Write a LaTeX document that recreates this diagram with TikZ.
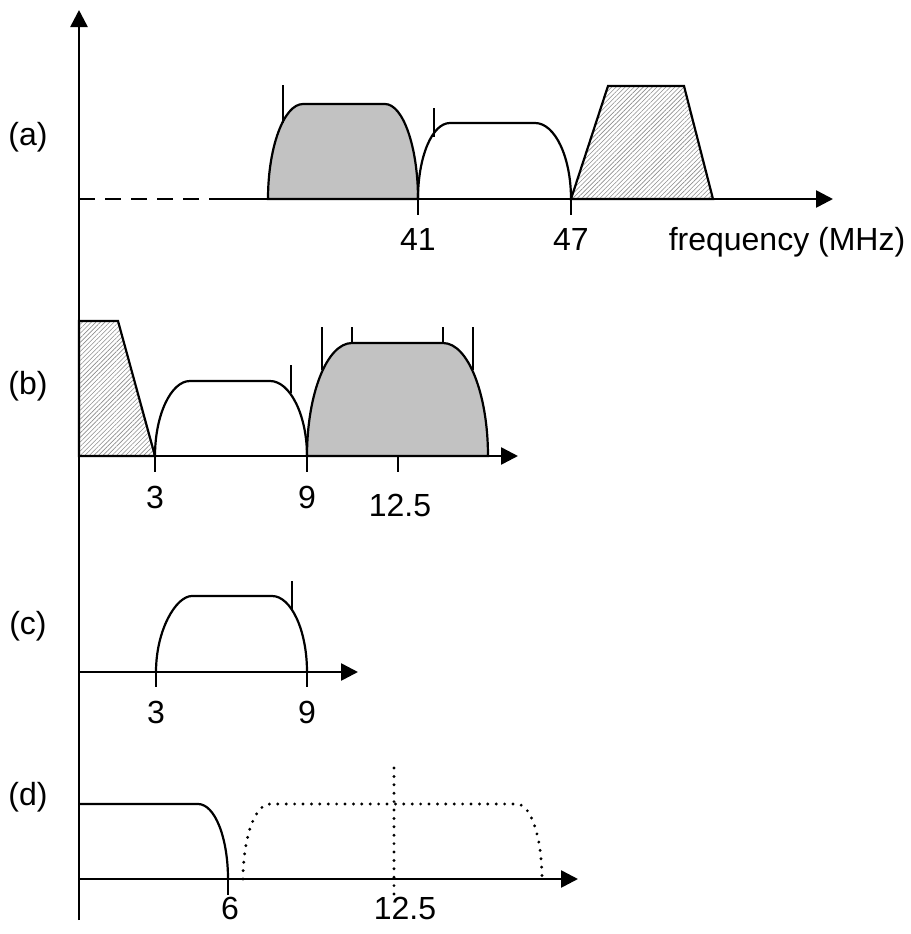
\documentclass[tikz,border=0pt]{standalone}
\usepackage{fontspec}
\setmainfont{Liberation Sans}
\usetikzlibrary{arrows.meta, patterns.meta}
\definecolor{ink}{HTML}{000000}
\definecolor{shadebg}{HTML}{C2C2C2}
\tikzset{
  axis/.style={line width=1.3pt, draw=ink, -{Triangle[length=8.5pt, width=8.5pt]}},
  tick/.style={line width=1pt, draw=ink},
  band/.style={line width=1.1pt, draw=ink},
  shaded/.style={band, fill=shadebg},
  hatched/.style={band, pattern={Lines[angle=45, distance=1.6pt, line width=0.3pt]}, pattern color=black!45},
  guard/.style={line width=1.6pt, draw=ink, line cap=round, dash pattern=on 0pt off 4.2pt},
  lbl/.style={font=\fontsize{16}{19}\selectfont, inner sep=0pt}
}

\begin{document}
\begin{tikzpicture}[x=0.5pt, y=-0.5pt]
\useasboundingbox (0,0) rectangle (911,934);

% (a) tuner output
\draw[shaded] (268,199) .. controls (268,147) and (284,104) .. (303,104) -- (385,104)
  .. controls (403,104) and (418,147) .. (418,199) -- cycle;
\draw[tick] (283,85) -- (283,123);
\draw[band] (418,199) .. controls (418,157) and (432,123) .. (450,123) -- (535,123)
  .. controls (555,123) and (571,157) .. (571,199);
\draw[tick] (434,108) -- (434,137);
\draw[hatched] (571,199) -- (608,86) -- (684,86) -- (713,199) -- cycle;

\coordinate (a0) at (79,199);
\coordinate (agap) at (212,199);
\coordinate (aend) at (833,199);
\draw[line width=1.3pt, dash pattern=on 8pt off 5pt] (a0) -- (agap);
\draw[axis] (agap) -- (aend);
\draw[tick] (418,199) -- (418,215);
\draw[tick] (571,199) -- (571,215);
\node[lbl, anchor=base] (f41) at (418,250) {41};
\node[lbl, anchor=base] (f47) at (571,250) {47};
\node[lbl, anchor=base] (funit) at (787,250) {frequency (MHz)};

% (b) after first mixing
\draw[hatched] (79,321) -- (118,321) -- (155,456) -- (79,456) -- cycle;
\draw[band] (155,456) .. controls (155,415) and (171,381) .. (190,381) -- (270,381)
  .. controls (290,381) and (307,415) .. (307,456);
\draw[tick] (291,365) -- (291,393);
\draw[shaded] (307,456) .. controls (307,394) and (327,343) .. (352,343) -- (443,343)
  .. controls (468,343) and (488,394) .. (488,456) -- cycle;
\draw[tick] (322,327) -- (322,370);
\draw[tick] (352,327) -- (352,343);
\draw[tick] (443,327) -- (443,343);
\draw[tick] (473,327) -- (473,370);

\coordinate (b0) at (79,456);
\coordinate (bend) at (518,456);
\draw[axis] (b0) -- (bend);
\draw[tick] (155,456) -- (155,472);
\draw[tick] (307,456) -- (307,472);
\draw[tick] (398,456) -- (398,472);
\node[lbl, anchor=base] (b3) at (155,508) {3};
\node[lbl, anchor=base] (b9) at (307,508) {9};
\node[lbl, anchor=base] (b125) at (400,516) {12.5};

% (c) filtered
\draw[band] (156,672) .. controls (156,630) and (176,596) .. (192,596) -- (272,596)
  .. controls (291,596) and (307,630) .. (307,672);
\draw[tick] (292,581) -- (292,610);

\coordinate (c0) at (79,672);
\coordinate (cend) at (358,672);
\draw[axis] (c0) -- (cend);
\draw[tick] (156,672) -- (156,687);
\draw[tick] (307,672) -- (307,687);
\node[lbl, anchor=base] (c3) at (156,723) {3};
\node[lbl, anchor=base] (c9) at (307,723) {9};

% (d) baseband
\draw[band] (79,804) -- (198,804) .. controls (215,804) and (228,838) .. (228,879);
\draw[tick] (228,879) -- (228,895);
\draw[guard] (243,879) .. controls (243,838) and (255,804) .. (270,804) -- (517,804)
  .. controls (531,804) and (542,838) .. (542,879);
\draw[guard] (394,768) -- (394,895);

\coordinate (d0) at (79,879);
\coordinate (dend) at (578,879);
\draw[axis] (d0) -- (dend);
\node[lbl, anchor=base] (d6) at (230,919) {6};
\node[lbl, anchor=base] (d125) at (405,919) {12.5};

% vertical axis and row labels
\coordinate (vbot) at (79,920);
\coordinate (vtop) at (79,10);
\draw[axis] (vbot) -- (vtop);
\node[lbl] (la) at (28,137) {(a)};
\node[lbl] (lb) at (28,386) {(b)};
\node[lbl] (lc) at (28,626) {(c)};
\node[lbl] (ld) at (28,797) {(d)};

\end{tikzpicture}
\end{document}
